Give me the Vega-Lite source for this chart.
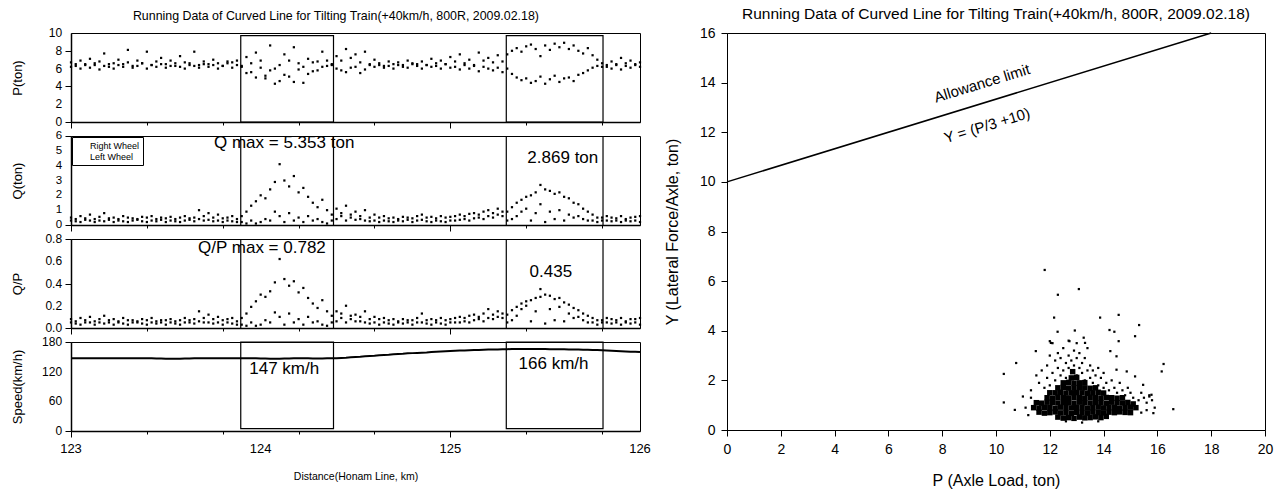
{
  "$schema": "https://vega.github.io/schema/vega-lite/v6.json",
  "padding": {"left": 10, "top": 6, "right": 0, "bottom": 0},
  "background": "white",
  "spacing": 11,
  "config": {
    "font": "Liberation Sans",
    "view": {"stroke": "black", "strokeWidth": 1},
    "axis": {"grid": false, "domainColor": "black", "domainWidth": 1.5, "tickColor": "black", "tickWidth": 1, "tickSize": 5, "labelColor": "black", "titleColor": "black", "labelFont": "Liberation Sans", "titleFont": "Liberation Sans", "titleFontWeight": "normal", "labelFontSize": 12, "titleFontSize": 13, "labelFlush": false, "labelOverlap": false, "labelPadding": 4},
    "title": {"fontWeight": "normal", "color": "black", "font": "Liberation Sans"}
  },
  "datasets": {
    "track": [
      {"d":123.000,"PR":6.7,"PL":6.2,"QR":0.5,"QL":0.3,"QPR":0.08,"QPL":0.05,"S":147},
      {"d":123.025,"PR":6.3,"PL":6.5,"QR":0.4,"QL":0.25,"QPR":0.06,"QPL":0.04,"S":147},
      {"d":123.050,"PR":6.9,"PL":6.0,"QR":0.6,"QL":0.2,"QPR":0.09,"QPL":0.03,"S":147},
      {"d":123.075,"PR":6.5,"PL":6.4,"QR":0.45,"QL":0.35,"QPR":0.07,"QPL":0.05,"S":147},
      {"d":123.100,"PR":7.1,"PL":6.1,"QR":0.7,"QL":0.3,"QPR":0.1,"QPL":0.05,"S":147},
      {"d":123.125,"PR":6.4,"PL":6.6,"QR":0.4,"QL":0.2,"QPR":0.06,"QPL":0.03,"S":147},
      {"d":123.150,"PR":6.8,"PL":5.9,"QR":0.55,"QL":0.3,"QPR":0.08,"QPL":0.05,"S":147},
      {"d":123.175,"PR":7.7,"PL":6.3,"QR":0.8,"QL":0.25,"QPR":0.11,"QPL":0.04,"S":147},
      {"d":123.200,"PR":6.2,"PL":6.5,"QR":0.45,"QL":0.35,"QPR":0.07,"QPL":0.05,"S":147},
      {"d":123.225,"PR":6.6,"PL":6.0,"QR":0.5,"QL":0.2,"QPR":0.08,"QPL":0.03,"S":147},
      {"d":123.250,"PR":7.0,"PL":6.4,"QR":0.4,"QL":0.3,"QPR":0.06,"QPL":0.05,"S":147},
      {"d":123.275,"PR":6.5,"PL":6.2,"QR":0.6,"QL":0.25,"QPR":0.09,"QPL":0.04,"S":147},
      {"d":123.300,"PR":8.1,"PL":6.7,"QR":0.5,"QL":0.2,"QPR":0.07,"QPL":0.03,"S":147},
      {"d":123.325,"PR":6.3,"PL":6.1,"QR":0.45,"QL":0.3,"QPR":0.07,"QPL":0.05,"S":147},
      {"d":123.350,"PR":6.9,"PL":6.3,"QR":0.4,"QL":0.35,"QPR":0.06,"QPL":0.05,"S":147},
      {"d":123.375,"PR":6.6,"PL":6.6,"QR":0.55,"QL":0.25,"QPR":0.08,"QPL":0.04,"S":147},
      {"d":123.400,"PR":7.9,"PL":6.0,"QR":0.5,"QL":0.2,"QPR":0.07,"QPL":0.03,"S":147},
      {"d":123.425,"PR":6.4,"PL":6.4,"QR":0.6,"QL":0.3,"QPR":0.09,"QPL":0.05,"S":147},
      {"d":123.450,"PR":6.8,"PL":6.2,"QR":0.4,"QL":0.25,"QPR":0.06,"QPL":0.04,"S":146.5},
      {"d":123.475,"PR":7.2,"PL":6.5,"QR":0.5,"QL":0.35,"QPR":0.07,"QPL":0.05,"S":146.5},
      {"d":123.500,"PR":6.5,"PL":6.1,"QR":0.45,"QL":0.2,"QPR":0.07,"QPL":0.03,"S":146},
      {"d":123.525,"PR":6.9,"PL":6.3,"QR":0.55,"QL":0.3,"QPR":0.08,"QPL":0.05,"S":146},
      {"d":123.550,"PR":6.3,"PL":6.6,"QR":0.4,"QL":0.25,"QPR":0.06,"QPL":0.04,"S":146},
      {"d":123.575,"PR":7.4,"PL":6.2,"QR":0.5,"QL":0.2,"QPR":0.07,"QPL":0.03,"S":146},
      {"d":123.600,"PR":6.7,"PL":6.0,"QR":0.6,"QL":0.3,"QPR":0.09,"QPL":0.05,"S":146.5},
      {"d":123.625,"PR":6.6,"PL":6.4,"QR":0.45,"QL":0.35,"QPR":0.07,"QPL":0.05,"S":146.5},
      {"d":123.650,"PR":7.9,"PL":6.3,"QR":0.5,"QL":0.25,"QPR":0.08,"QPL":0.04,"S":147},
      {"d":123.675,"PR":6.4,"PL":6.1,"QR":1.0,"QL":0.4,"QPR":0.15,"QPL":0.06,"S":147},
      {"d":123.700,"PR":6.8,"PL":6.5,"QR":0.6,"QL":0.3,"QPR":0.09,"QPL":0.05,"S":147},
      {"d":123.725,"PR":6.5,"PL":6.2,"QR":0.8,"QL":0.35,"QPR":0.12,"QPL":0.05,"S":147},
      {"d":123.750,"PR":7.0,"PL":6.4,"QR":0.5,"QL":0.25,"QPR":0.08,"QPL":0.04,"S":147},
      {"d":123.775,"PR":6.6,"PL":6.0,"QR":0.7,"QL":0.3,"QPR":0.1,"QPL":0.05,"S":147},
      {"d":123.800,"PR":6.3,"PL":6.3,"QR":0.45,"QL":0.2,"QPR":0.07,"QPL":0.03,"S":147},
      {"d":123.825,"PR":6.8,"PL":6.6,"QR":0.5,"QL":0.3,"QPR":0.08,"QPL":0.05,"S":147},
      {"d":123.850,"PR":6.7,"PL":6.1,"QR":0.6,"QL":0.25,"QPR":0.09,"QPL":0.04,"S":147},
      {"d":123.875,"PR":6.9,"PL":6.4,"QR":0.4,"QL":0.2,"QPR":0.06,"QPL":0.03,"S":147},
      {"d":123.900,"PR":6.2,"PL":6.3,"QR":0.6,"QL":0.2,"QPR":0.09,"QPL":0.03,"S":147},
      {"d":123.925,"PR":7.3,"PL":5.5,"QR":0.9,"QL":0.1,"QPR":0.13,"QPL":0.02,"S":147},
      {"d":123.950,"PR":5.6,"PL":6.6,"QR":1.3,"QL":0.3,"QPR":0.19,"QPL":0.05,"S":147},
      {"d":123.975,"PR":7.8,"PL":5.0,"QR":1.6,"QL":0.1,"QPR":0.24,"QPL":0.02,"S":147},
      {"d":124.000,"PR":6.9,"PL":6.1,"QR":2.0,"QL":0.2,"QPR":0.3,"QPL":0.03,"S":146.5},
      {"d":124.025,"PR":5.2,"PL":4.9,"QR":1.8,"QL":0.4,"QPR":0.28,"QPL":0.07,"S":146.5},
      {"d":124.050,"PR":8.6,"PL":5.8,"QR":2.4,"QL":0.3,"QPR":0.33,"QPL":0.05,"S":146},
      {"d":124.075,"PR":6.0,"PL":4.3,"QR":2.9,"QL":0.9,"QPR":0.41,"QPL":0.14,"S":146},
      {"d":124.100,"PR":4.6,"PL":6.4,"QR":4.1,"QL":0.6,"QPR":0.62,"QPL":0.1,"S":146},
      {"d":124.125,"PR":7.6,"PL":5.3,"QR":3.0,"QL":0.2,"QPR":0.44,"QPL":0.03,"S":146.5},
      {"d":124.150,"PR":5.1,"PL":6.9,"QR":2.6,"QL":0.8,"QPR":0.38,"QPL":0.13,"S":146.5},
      {"d":124.175,"PR":8.4,"PL":4.5,"QR":3.3,"QL":0.3,"QPR":0.42,"QPL":0.05,"S":147},
      {"d":124.200,"PR":6.6,"PL":5.9,"QR":2.2,"QL":0.5,"QPR":0.32,"QPL":0.08,"S":147},
      {"d":124.225,"PR":4.4,"PL":6.2,"QR":2.5,"QL":0.2,"QPR":0.36,"QPL":0.03,"S":147},
      {"d":124.250,"PR":7.1,"PL":5.4,"QR":1.9,"QL":0.6,"QPR":0.27,"QPL":0.1,"S":147},
      {"d":124.275,"PR":5.7,"PL":6.7,"QR":1.5,"QL":0.3,"QPR":0.22,"QPL":0.05,"S":146.5},
      {"d":124.300,"PR":6.8,"PL":5.8,"QR":1.2,"QL":0.4,"QPR":0.18,"QPL":0.06,"S":146.5},
      {"d":124.325,"PR":7.9,"PL":6.2,"QR":1.7,"QL":0.2,"QPR":0.25,"QPL":0.03,"S":146.5},
      {"d":124.350,"PR":6.3,"PL":6.9,"QR":1.0,"QL":0.1,"QPR":0.15,"QPL":0.02,"S":147},
      {"d":124.375,"PR":6.5,"PL":6.4,"QR":0.7,"QL":0.3,"QPR":0.11,"QPL":0.05,"S":147},
      {"d":124.400,"PR":7.4,"PL":6.0,"QR":1.1,"QL":0.4,"QPR":0.15,"QPL":0.06,"S":147},
      {"d":124.425,"PR":5.8,"PL":6.9,"QR":0.8,"QL":0.6,"QPR":0.13,"QPL":0.09,"S":147.5},
      {"d":124.450,"PR":8.2,"PL":5.6,"QR":1.3,"QL":0.3,"QPR":0.2,"QPL":0.05,"S":148},
      {"d":124.475,"PR":6.1,"PL":7.2,"QR":0.7,"QL":0.5,"QPR":0.11,"QPL":0.08,"S":149},
      {"d":124.500,"PR":7.6,"PL":6.2,"QR":0.9,"QL":0.35,"QPR":0.12,"QPL":0.06,"S":149.5},
      {"d":124.525,"PR":5.5,"PL":6.7,"QR":0.6,"QL":0.4,"QPR":0.1,"QPL":0.06,"S":150},
      {"d":124.550,"PR":7.9,"PL":5.9,"QR":1.0,"QL":0.3,"QPR":0.15,"QPL":0.05,"S":151},
      {"d":124.575,"PR":6.4,"PL":6.5,"QR":0.5,"QL":0.25,"QPR":0.08,"QPL":0.04,"S":151.5},
      {"d":124.600,"PR":7.0,"PL":6.2,"QR":0.7,"QL":0.3,"QPR":0.1,"QPL":0.05,"S":152},
      {"d":124.625,"PR":6.6,"PL":6.4,"QR":0.5,"QL":0.2,"QPR":0.08,"QPL":0.03,"S":153},
      {"d":124.650,"PR":6.3,"PL":6.1,"QR":0.6,"QL":0.3,"QPR":0.09,"QPL":0.05,"S":153.5},
      {"d":124.675,"PR":6.8,"PL":6.3,"QR":0.45,"QL":0.25,"QPR":0.07,"QPL":0.04,"S":154},
      {"d":124.700,"PR":6.5,"PL":6.0,"QR":0.5,"QL":0.2,"QPR":0.08,"QPL":0.03,"S":155},
      {"d":124.725,"PR":6.7,"PL":6.4,"QR":0.4,"QL":0.3,"QPR":0.06,"QPL":0.05,"S":155.5},
      {"d":124.750,"PR":6.4,"PL":6.2,"QR":0.55,"QL":0.25,"QPR":0.08,"QPL":0.04,"S":156},
      {"d":124.775,"PR":6.9,"PL":6.1,"QR":0.5,"QL":0.35,"QPR":0.07,"QPL":0.05,"S":157},
      {"d":124.800,"PR":6.6,"PL":6.5,"QR":0.45,"QL":0.2,"QPR":0.07,"QPL":0.03,"S":157.5},
      {"d":124.825,"PR":6.5,"PL":6.3,"QR":0.6,"QL":0.3,"QPR":0.09,"QPL":0.05,"S":158},
      {"d":124.850,"PR":6.8,"PL":6.0,"QR":0.7,"QL":0.35,"QPR":0.13,"QPL":0.05,"S":158.5},
      {"d":124.875,"PR":6.4,"PL":6.4,"QR":0.5,"QL":0.25,"QPR":0.07,"QPL":0.04,"S":159},
      {"d":124.900,"PR":7.1,"PL":6.2,"QR":0.55,"QL":0.2,"QPR":0.08,"QPL":0.03,"S":160},
      {"d":124.925,"PR":6.6,"PL":6.3,"QR":0.45,"QL":0.3,"QPR":0.07,"QPL":0.05,"S":160.5},
      {"d":124.950,"PR":6.9,"PL":6.0,"QR":0.6,"QL":0.25,"QPR":0.09,"QPL":0.04,"S":161},
      {"d":124.975,"PR":6.5,"PL":6.5,"QR":0.5,"QL":0.2,"QPR":0.07,"QPL":0.03,"S":161.5},
      {"d":125.000,"PR":7.3,"PL":6.1,"QR":0.55,"QL":0.3,"QPR":0.08,"QPL":0.05,"S":162},
      {"d":125.025,"PR":6.8,"PL":6.2,"QR":0.6,"QL":0.3,"QPR":0.09,"QPL":0.05,"S":162.5},
      {"d":125.050,"PR":7.6,"PL":5.9,"QR":0.7,"QL":0.35,"QPR":0.1,"QPL":0.05,"S":163},
      {"d":125.075,"PR":6.6,"PL":6.4,"QR":0.6,"QL":0.4,"QPR":0.09,"QPL":0.06,"S":163},
      {"d":125.100,"PR":7.0,"PL":6.0,"QR":0.75,"QL":0.3,"QPR":0.11,"QPL":0.05,"S":163.5},
      {"d":125.125,"PR":6.4,"PL":6.3,"QR":0.8,"QL":0.45,"QPR":0.12,"QPL":0.07,"S":164},
      {"d":125.150,"PR":7.8,"PL":5.7,"QR":0.7,"QL":0.5,"QPR":0.1,"QPL":0.08,"S":164},
      {"d":125.175,"PR":6.9,"PL":6.2,"QR":0.9,"QL":0.4,"QPR":0.13,"QPL":0.06,"S":164.5},
      {"d":125.200,"PR":7.2,"PL":6.0,"QR":1.0,"QL":0.6,"QPR":0.17,"QPL":0.09,"S":165},
      {"d":125.225,"PR":6.7,"PL":5.8,"QR":0.8,"QL":0.5,"QPR":0.12,"QPL":0.08,"S":165},
      {"d":125.250,"PR":7.5,"PL":6.1,"QR":1.1,"QL":0.7,"QPR":0.15,"QPL":0.1,"S":165},
      {"d":125.275,"PR":6.8,"PL":5.6,"QR":0.9,"QL":0.6,"QPR":0.13,"QPL":0.09,"S":165.5},
      {"d":125.300,"PR":7.6,"PL":6.0,"QR":0.9,"QL":0.3,"QPR":0.12,"QPL":0.05,"S":165.5},
      {"d":125.325,"PR":8.0,"PL":5.4,"QR":1.2,"QL":0.4,"QPR":0.16,"QPL":0.07,"S":166},
      {"d":125.350,"PR":8.3,"PL":5.0,"QR":1.5,"QL":0.6,"QPR":0.19,"QPL":0.11,"S":166},
      {"d":125.375,"PR":7.9,"PL":4.7,"QR":1.7,"QL":0.9,"QPR":0.22,"QPL":0.17,"S":166},
      {"d":125.400,"PR":8.5,"PL":4.9,"QR":1.9,"QL":1.1,"QPR":0.24,"QPL":0.2,"S":166},
      {"d":125.425,"PR":8.7,"PL":4.4,"QR":2.0,"QL":0.3,"QPR":0.25,"QPL":0.06,"S":166},
      {"d":125.450,"PR":8.2,"PL":4.6,"QR":2.2,"QL":0.8,"QPR":0.27,"QPL":0.15,"S":166},
      {"d":125.475,"PR":7.4,"PL":5.1,"QR":2.7,"QL":1.4,"QPR":0.35,"QPL":0.28,"S":166},
      {"d":125.500,"PR":8.6,"PL":4.3,"QR":2.4,"QL":0.2,"QPR":0.3,"QPL":0.04,"S":166},
      {"d":125.525,"PR":8.1,"PL":4.8,"QR":2.3,"QL":0.9,"QPR":0.29,"QPL":0.17,"S":165.5},
      {"d":125.550,"PR":8.8,"PL":5.2,"QR":2.1,"QL":0.4,"QPR":0.26,"QPL":0.07,"S":165.5},
      {"d":125.575,"PR":8.4,"PL":4.5,"QR":2.2,"QL":1.0,"QPR":0.27,"QPL":0.19,"S":165.5},
      {"d":125.600,"PR":8.9,"PL":4.9,"QR":1.9,"QL":0.3,"QPR":0.23,"QPL":0.06,"S":165.5},
      {"d":125.625,"PR":8.2,"PL":5.0,"QR":1.8,"QL":0.7,"QPR":0.21,"QPL":0.13,"S":165},
      {"d":125.650,"PR":8.6,"PL":4.6,"QR":1.5,"QL":0.5,"QPR":0.18,"QPL":0.09,"S":165},
      {"d":125.675,"PR":8.0,"PL":5.3,"QR":1.4,"QL":0.6,"QPR":0.16,"QPL":0.1,"S":165},
      {"d":125.700,"PR":7.7,"PL":5.5,"QR":1.1,"QL":0.4,"QPR":0.13,"QPL":0.07,"S":164.5},
      {"d":125.725,"PR":8.3,"PL":5.8,"QR":0.9,"QL":0.3,"QPR":0.11,"QPL":0.05,"S":164.5},
      {"d":125.750,"PR":7.5,"PL":6.1,"QR":0.7,"QL":0.3,"QPR":0.09,"QPL":0.05,"S":164},
      {"d":125.775,"PR":7.0,"PL":6.3,"QR":0.5,"QL":0.2,"QPR":0.07,"QPL":0.03,"S":164},
      {"d":125.800,"PR":6.6,"PL":6.2,"QR":0.5,"QL":0.3,"QPR":0.07,"QPL":0.05,"S":163.5},
      {"d":125.825,"PR":6.4,"PL":6.2,"QR":0.6,"QL":0.3,"QPR":0.09,"QPL":0.05,"S":163},
      {"d":125.850,"PR":6.8,"PL":6.0,"QR":0.5,"QL":0.25,"QPR":0.08,"QPL":0.04,"S":162.5},
      {"d":125.875,"PR":6.5,"PL":6.4,"QR":0.45,"QL":0.3,"QPR":0.07,"QPL":0.05,"S":162},
      {"d":125.900,"PR":7.2,"PL":5.9,"QR":0.6,"QL":0.2,"QPR":0.09,"QPL":0.03,"S":161.5},
      {"d":125.925,"PR":6.6,"PL":6.3,"QR":0.4,"QL":0.3,"QPR":0.06,"QPL":0.05,"S":161},
      {"d":125.950,"PR":6.9,"PL":6.1,"QR":0.5,"QL":0.25,"QPR":0.08,"QPL":0.04,"S":160.5},
      {"d":125.975,"PR":6.5,"PL":6.4,"QR":0.55,"QL":0.3,"QPR":0.08,"QPL":0.05,"S":160.5},
      {"d":126.000,"PR":6.7,"PL":6.2,"QR":0.6,"QL":0.2,"QPR":0.09,"QPL":0.03,"S":160}
    ],
    "boxes": [
      {"x1": 123.895, "x2": 124.384},
      {"x1": 125.295, "x2": 125.805}
    ],
    "ylab": [
      {"panel": "P", "v": 0, "label": "0"}, {"panel": "P", "v": 2, "label": "2"}, {"panel": "P", "v": 4, "label": "4"}, {"panel": "P", "v": 6, "label": "6"}, {"panel": "P", "v": 8, "label": "8"}, {"panel": "P", "v": 10, "label": "10"},
      {"panel": "Q", "v": 0, "label": "0"}, {"panel": "Q", "v": 1, "label": "1"}, {"panel": "Q", "v": 2, "label": "2"}, {"panel": "Q", "v": 3, "label": "3"}, {"panel": "Q", "v": 4, "label": "4"}, {"panel": "Q", "v": 5, "label": "5"}, {"panel": "Q", "v": 6, "label": "6"},
      {"panel": "QP", "v": 0, "label": "0.0"}, {"panel": "QP", "v": 0.2, "label": "0.2"}, {"panel": "QP", "v": 0.4, "label": "0.4"}, {"panel": "QP", "v": 0.6, "label": "0.6"}, {"panel": "QP", "v": 0.8, "label": "0.8"},
      {"panel": "S", "v": 0, "label": "0"}, {"panel": "S", "v": 60, "label": "60"}, {"panel": "S", "v": 120, "label": "120"}, {"panel": "S", "v": 180, "label": "180"}
    ],
    "xlab": [
      {"d": 123, "label": "123"}, {"d": 124, "label": "124"}, {"d": 125, "label": "125"}, {"d": 126, "label": "126"}
    ],
    "notes": [
      {"id": "qmax", "d": 123.754, "v": 5.5, "label": "Q max = 5.353 ton"},
      {"id": "q2", "d": 125.78, "v": 4.5, "label": "2.869 ton"},
      {"id": "qpmax", "d": 123.67, "v": 0.72, "label": "Q/P max = 0.782"},
      {"id": "qp2", "d": 125.53, "v": 0.5, "label": "0.435"},
      {"id": "s1", "d": 123.94, "v": 126, "label": "147 km/h"},
      {"id": "s2", "d": 125.36, "v": 136, "label": "166 km/h"}
    ],
    "rnotes": [
      {"P": 9.48, "Y": 13.97, "label": "Allowance limit"},
      {"P": 9.67, "Y": 12.27, "label": "Y = (P/3 +10)"}
    ],
    "limit": [
      {"P": 0, "Y": 10},
      {"P": 18, "Y": 16}
    ],
    "core": [
      {"P":12.3,"Y":0.52},{"P":12.5,"Y":0.48},{"P":12.7,"Y":0.5},{"P":12.9,"Y":0.47},{"P":13.1,"Y":0.52},{"P":13.3,"Y":0.49},{"P":13.5,"Y":0.5},{"P":13.7,"Y":0.53},{"P":13.9,"Y":0.5},{"P":14.1,"Y":0.55},
      {"P":11.6,"Y":0.72},{"P":11.8,"Y":0.68},{"P":12.0,"Y":0.7},{"P":12.2,"Y":0.73},{"P":12.4,"Y":0.69},{"P":12.6,"Y":0.7},{"P":12.8,"Y":0.67},{"P":13.0,"Y":0.71},{"P":13.2,"Y":0.7},{"P":13.4,"Y":0.68},{"P":13.6,"Y":0.72},{"P":13.8,"Y":0.7},{"P":14.0,"Y":0.69},{"P":14.2,"Y":0.72},{"P":14.4,"Y":0.7},{"P":14.6,"Y":0.73},{"P":14.8,"Y":0.71},{"P":15.0,"Y":0.7},
      {"P":11.4,"Y":0.9},{"P":11.6,"Y":0.88},{"P":11.8,"Y":0.91},{"P":12.0,"Y":0.9},{"P":12.2,"Y":0.87},{"P":12.4,"Y":0.92},{"P":12.6,"Y":0.9},{"P":12.8,"Y":0.89},{"P":13.0,"Y":0.91},{"P":13.2,"Y":0.9},{"P":13.4,"Y":0.88},{"P":13.6,"Y":0.9},{"P":13.8,"Y":0.92},{"P":14.0,"Y":0.89},{"P":14.2,"Y":0.9},{"P":14.4,"Y":0.91},{"P":14.6,"Y":0.88},{"P":14.8,"Y":0.9},{"P":15.0,"Y":0.92},{"P":15.2,"Y":0.9},
      {"P":11.5,"Y":1.1},{"P":11.7,"Y":1.08},{"P":11.9,"Y":1.12},{"P":12.1,"Y":1.1},{"P":12.3,"Y":1.09},{"P":12.5,"Y":1.11},{"P":12.7,"Y":1.1},{"P":12.9,"Y":1.08},{"P":13.1,"Y":1.12},{"P":13.3,"Y":1.1},{"P":13.5,"Y":1.09},{"P":13.7,"Y":1.11},{"P":13.9,"Y":1.1},{"P":14.1,"Y":1.08},{"P":14.3,"Y":1.12},{"P":14.5,"Y":1.1},{"P":14.7,"Y":1.09},{"P":14.9,"Y":1.11},{"P":15.1,"Y":1.05},
      {"P":11.9,"Y":1.3},{"P":12.1,"Y":1.28},{"P":12.3,"Y":1.32},{"P":12.5,"Y":1.3},{"P":12.7,"Y":1.29},{"P":12.9,"Y":1.31},{"P":13.1,"Y":1.3},{"P":13.3,"Y":1.28},{"P":13.5,"Y":1.32},{"P":13.7,"Y":1.3},{"P":13.9,"Y":1.29},{"P":14.1,"Y":1.31},{"P":14.3,"Y":1.3},{"P":14.5,"Y":1.28},{"P":14.7,"Y":1.3},
      {"P":12.0,"Y":1.5},{"P":12.2,"Y":1.5},{"P":12.4,"Y":1.52},{"P":12.6,"Y":1.49},{"P":12.8,"Y":1.5},{"P":13.0,"Y":1.51},{"P":13.2,"Y":1.5},{"P":13.4,"Y":1.48},{"P":13.6,"Y":1.5},{"P":13.8,"Y":1.52},{"P":14.0,"Y":1.49},
      {"P":12.3,"Y":1.7},{"P":12.5,"Y":1.72},{"P":12.7,"Y":1.69},{"P":12.9,"Y":1.7},{"P":13.1,"Y":1.71},{"P":13.3,"Y":1.7},{"P":13.5,"Y":1.68},{"P":13.7,"Y":1.7},
      {"P":12.5,"Y":1.9},{"P":12.7,"Y":1.92},{"P":12.9,"Y":1.89},{"P":13.1,"Y":1.9},{"P":13.3,"Y":1.91},
      {"P":12.8,"Y":2.1},{"P":13.0,"Y":2.12},{"P":12.85,"Y":2.35}
    ],
    "scatter": [
      {"P":11.81,"Y":6.45},{"P":12.3,"Y":5.45},{"P":13.08,"Y":5.68},{"P":12.16,"Y":4.53},{"P":13.87,"Y":4.53},{"P":14.56,"Y":4.64},{"P":15.32,"Y":4.23},{"P":14.22,"Y":4.03},{"P":14.4,"Y":3.96},{"P":15.17,"Y":3.78},{"P":12.93,"Y":4.01},{"P":12.29,"Y":3.96},
      {"P":10.29,"Y":2.26},{"P":10.29,"Y":1.11},{"P":10.75,"Y":2.7},{"P":10.7,"Y":0.81},{"P":16.23,"Y":2.66},{"P":16.16,"Y":2.36},{"P":16.59,"Y":0.84},{"P":15.85,"Y":0.68},{"P":15.78,"Y":1.42},{"P":15.47,"Y":1.82},{"P":15.7,"Y":1.35},{"P":15.17,"Y":2.16},{"P":14.86,"Y":2.36},{"P":14.48,"Y":2.43},{"P":11.0,"Y":1.35},{"P":11.48,"Y":3.18},{"P":12.04,"Y":3.51},{"P":12.0,"Y":3.58},{"P":12.73,"Y":3.58},{"P":13.31,"Y":3.51},{"P":13.26,"Y":3.72},{"P":14.25,"Y":3.18},{"P":14.48,"Y":2.97},{"P":14.56,"Y":3.58},
      {"P":11.3,"Y":1.6},{"P":11.5,"Y":2.2},{"P":11.6,"Y":1.9},{"P":11.7,"Y":2.4},{"P":11.8,"Y":1.7},{"P":11.9,"Y":2.1},{"P":11.9,"Y":2.6},{"P":12.0,"Y":1.8},{"P":12.0,"Y":3.0},{"P":12.1,"Y":2.3},{"P":12.1,"Y":3.5},{"P":12.2,"Y":2.0},{"P":12.2,"Y":2.8},{"P":12.3,"Y":1.7},{"P":12.3,"Y":2.5},{"P":12.3,"Y":3.1},{"P":12.4,"Y":2.2},{"P":12.4,"Y":2.9},{"P":12.5,"Y":2.4},{"P":12.5,"Y":3.3},{"P":12.6,"Y":2.1},{"P":12.6,"Y":2.7},{"P":12.7,"Y":2.5},{"P":12.7,"Y":3.0},{"P":12.7,"Y":3.6},{"P":12.8,"Y":2.3},{"P":12.8,"Y":2.8},{"P":12.9,"Y":2.6},{"P":12.9,"Y":3.2},{"P":13.0,"Y":2.2},{"P":13.0,"Y":2.9},{"P":13.0,"Y":3.5},{"P":13.1,"Y":2.5},{"P":13.1,"Y":3.1},{"P":13.2,"Y":2.3},{"P":13.2,"Y":2.7},{"P":13.3,"Y":2.0},{"P":13.3,"Y":2.9},{"P":13.4,"Y":2.4},{"P":13.4,"Y":3.3},{"P":13.5,"Y":2.1},{"P":13.5,"Y":2.6},{"P":13.6,"Y":1.9},{"P":13.6,"Y":2.4},{"P":13.7,"Y":2.2},{"P":13.8,"Y":1.8},{"P":13.8,"Y":2.5},{"P":13.9,"Y":2.1},{"P":14.0,"Y":1.7},{"P":14.0,"Y":2.3},{"P":14.1,"Y":1.9},{"P":14.2,"Y":1.6},{"P":14.3,"Y":2.0},{"P":14.4,"Y":1.7},{"P":14.5,"Y":1.5},{"P":14.6,"Y":1.9},{"P":14.7,"Y":1.6},{"P":14.8,"Y":1.4},{"P":14.9,"Y":1.7},{"P":15.0,"Y":1.5},{"P":15.1,"Y":1.3},{"P":15.3,"Y":1.2},{"P":15.4,"Y":1.5},{"P":15.5,"Y":1.3},{"P":15.6,"Y":1.1},{"P":15.7,"Y":1.4},{"P":15.8,"Y":1.2},{"P":15.9,"Y":0.9},{"P":11.2,"Y":0.6},{"P":11.3,"Y":1.3},{"P":11.1,"Y":0.9},{"P":15.4,"Y":0.7},{"P":15.6,"Y":0.8},{"P":12.6,"Y":0.35},{"P":13.2,"Y":0.3},{"P":13.8,"Y":0.35}
    ]
  },
  "hconcat": [
    {
      "title": {"text": "Running Data of Curved Line for Tilting Train(+40km/h, 800R, 2009.02.18)", "fontSize": 12.4, "offset": 4, "anchor": "middle", "dx": 5},
      "bounds": "flush",
      "spacing": 14,
      "resolve": {"scale": {"x": "independent", "y": "independent", "color": "independent"}, "legend": {"color": "independent"}},
      "vconcat": [
        {
          "width": 569, "height": 89,
          "layer": [
            {"data": {"name": "track"}, "mark": {"type": "square", "size": 5, "color": "black", "opacity": 1},
             "encoding": {
               "x": {"field": "d", "type": "quantitative", "scale": {"domain": [123, 126], "nice": false, "zero": false},
                     "axis": {"title": null, "labels": false, "values": [123,123.2,123.4,123.6,123.8,124,124.2,124.4,124.6,124.8,125,125.2,125.4,125.6,125.8,126], "tickSize": {"condition": {"test": "abs(datum.value - round(datum.value)) < 0.001", "value": 6}, "value": 3}}},
               "y": {"field": "PR", "type": "quantitative", "scale": {"domain": [0, 10], "nice": false},
                     "axis": {"title": "P(ton)", "labels": false, "values": [0,1,2,3,4,5,6,7,8,9,10], "tickSize": {"condition": {"test": "datum.value % 2 === 0", "value": 6}, "value": 3}, "titleX": -54, "titleAlign": "center", "titleBaseline": "middle", "titleAngle": 270}}
             }},
            {"data": {"name": "track"}, "mark": {"type": "square", "size": 5, "color": "black", "opacity": 1},
             "encoding": {"x": {"field": "d", "type": "quantitative"}, "y": {"field": "PL", "type": "quantitative"}}},
            {"data": {"name": "boxes"}, "mark": {"type": "rect", "fillOpacity": 0, "stroke": "black", "strokeWidth": 1.2},
             "encoding": {"x": {"field": "x1", "type": "quantitative"}, "x2": {"field": "x2"}, "y": {"datum": 0}, "y2": {"datum": 9.7}}},
            {"data": {"name": "ylab"}, "transform": [{"filter": "datum.panel === 'P'"}],
             "mark": {"type": "text", "align": "right", "baseline": "middle", "fontSize": 12, "color": "black"},
             "encoding": {"x": {"datum": 122.953}, "y": {"field": "v", "type": "quantitative"}, "text": {"field": "label"}}}
          ]
        },
        {
          "width": 569, "height": 89,
          "layer": [
            {"data": {"name": "track"}, "mark": {"type": "square", "size": 5, "opacity": 1},
             "encoding": {
               "x": {"field": "d", "type": "quantitative", "scale": {"domain": [123, 126], "nice": false, "zero": false},
                     "axis": {"title": null, "labels": false, "values": [123,123.2,123.4,123.6,123.8,124,124.2,124.4,124.6,124.8,125,125.2,125.4,125.6,125.8,126], "tickSize": {"condition": {"test": "abs(datum.value - round(datum.value)) < 0.001", "value": 6}, "value": 3}}},
               "y": {"field": "QR", "type": "quantitative", "scale": {"domain": [0, 6], "nice": false},
                     "axis": {"title": "Q(ton)", "labels": false, "values": [0,0.5,1,1.5,2,2.5,3,3.5,4,4.5,5,5.5,6], "tickSize": {"condition": {"test": "datum.value % 1 === 0", "value": 6}, "value": 3}, "titleX": -54, "titleAlign": "center", "titleBaseline": "middle", "titleAngle": 270}},
               "color": {"datum": "Right Wheel", "scale": {"domain": ["Right Wheel", "Left Wheel"], "range": ["black", "black"]},
                         "legend": {"title": null, "orient": "top-left", "offset": 1, "padding": 3, "strokeColor": "black", "labelFontSize": 9, "symbolType": "stroke", "symbolStrokeWidth": 1, "symbolSize": 90, "rowPadding": 0, "labelOffset": 4}}
             }},
            {"data": {"name": "track"}, "mark": {"type": "square", "size": 5, "opacity": 1},
             "encoding": {"x": {"field": "d", "type": "quantitative"}, "y": {"field": "QL", "type": "quantitative"}, "color": {"datum": "Left Wheel"}}},
            {"data": {"name": "boxes"}, "mark": {"type": "rule", "color": "black", "strokeWidth": 1.2},
             "encoding": {"x": {"field": "x1", "type": "quantitative"}}},
            {"data": {"name": "boxes"}, "mark": {"type": "rule", "color": "black", "strokeWidth": 1.2},
             "encoding": {"x": {"field": "x2", "type": "quantitative"}}},
            {"data": {"name": "ylab"}, "transform": [{"filter": "datum.panel === 'Q'"}],
             "mark": {"type": "text", "align": "right", "baseline": "middle", "fontSize": 11.5, "color": "black"},
             "encoding": {"x": {"datum": 122.953}, "y": {"field": "v", "type": "quantitative"}, "text": {"field": "label"}}},
            {"data": {"name": "notes"}, "transform": [{"filter": "datum.id === 'qmax'"}],
             "mark": {"type": "text", "align": "left", "baseline": "middle", "fontSize": 17, "color": "black"},
             "encoding": {"x": {"field": "d", "type": "quantitative"}, "y": {"field": "v", "type": "quantitative"}, "text": {"field": "label"}}},
            {"data": {"name": "notes"}, "transform": [{"filter": "datum.id === 'q2'"}],
             "mark": {"type": "text", "align": "right", "baseline": "middle", "fontSize": 17, "color": "black"},
             "encoding": {"x": {"field": "d", "type": "quantitative"}, "y": {"field": "v", "type": "quantitative"}, "text": {"field": "label"}}}
          ]
        },
        {
          "width": 569, "height": 89,
          "layer": [
            {"data": {"name": "track"}, "mark": {"type": "square", "size": 5, "color": "black", "opacity": 1},
             "encoding": {
               "x": {"field": "d", "type": "quantitative", "scale": {"domain": [123, 126], "nice": false, "zero": false},
                     "axis": {"title": null, "labels": false, "values": [123,123.2,123.4,123.6,123.8,124,124.2,124.4,124.6,124.8,125,125.2,125.4,125.6,125.8,126], "tickSize": {"condition": {"test": "abs(datum.value - round(datum.value)) < 0.001", "value": 6}, "value": 3}}},
               "y": {"field": "QPR", "type": "quantitative", "scale": {"domain": [0, 0.8], "nice": false},
                     "axis": {"title": "Q/P", "labels": false, "values": [0,0.1,0.2,0.3,0.4,0.5,0.6,0.7,0.8], "tickSize": {"condition": {"test": "round(datum.value * 10) % 2 === 0", "value": 6}, "value": 3}, "titleX": -54, "titleAlign": "center", "titleBaseline": "middle", "titleAngle": 270}}
             }},
            {"data": {"name": "track"}, "mark": {"type": "square", "size": 5, "color": "black", "opacity": 1},
             "encoding": {"x": {"field": "d", "type": "quantitative"}, "y": {"field": "QPL", "type": "quantitative"}}},
            {"data": {"name": "boxes"}, "mark": {"type": "rule", "color": "black", "strokeWidth": 1.2},
             "encoding": {"x": {"field": "x1", "type": "quantitative"}}},
            {"data": {"name": "boxes"}, "mark": {"type": "rule", "color": "black", "strokeWidth": 1.2},
             "encoding": {"x": {"field": "x2", "type": "quantitative"}}},
            {"data": {"name": "ylab"}, "transform": [{"filter": "datum.panel === 'QP'"}],
             "mark": {"type": "text", "align": "right", "baseline": "middle", "fontSize": 12, "color": "black"},
             "encoding": {"x": {"datum": 122.953}, "y": {"field": "v", "type": "quantitative"}, "text": {"field": "label"}}},
            {"data": {"name": "notes"}, "transform": [{"filter": "datum.id === 'qpmax'"}],
             "mark": {"type": "text", "align": "left", "baseline": "middle", "fontSize": 17, "color": "black"},
             "encoding": {"x": {"field": "d", "type": "quantitative"}, "y": {"field": "v", "type": "quantitative"}, "text": {"field": "label"}}},
            {"data": {"name": "notes"}, "transform": [{"filter": "datum.id === 'qp2'"}],
             "mark": {"type": "text", "align": "center", "baseline": "middle", "fontSize": 17, "color": "black"},
             "encoding": {"x": {"field": "d", "type": "quantitative"}, "y": {"field": "v", "type": "quantitative"}, "text": {"field": "label"}}}
          ]
        },
        {
          "width": 569, "height": 89,
          "layer": [
            {"data": {"name": "track"}, "mark": {"type": "line", "color": "black", "strokeWidth": 2},
             "encoding": {
               "x": {"field": "d", "type": "quantitative", "scale": {"domain": [123, 126], "nice": false, "zero": false},
                     "axis": {"title": "Distance(Honam Line, km)", "labels": false, "values": [123,123.2,123.4,123.6,123.8,124,124.2,124.4,124.6,124.8,125,125.2,125.4,125.6,125.8,126], "tickSize": {"condition": {"test": "abs(datum.value - round(datum.value)) < 0.001", "value": 6}, "value": 3}, "titleFontSize": 10.5, "titlePadding": 34}},
               "y": {"field": "S", "type": "quantitative", "scale": {"domain": [0, 180], "nice": false},
                     "axis": {"title": "Speed(km/h)", "labels": false, "values": [0,30,60,90,120,150,180], "tickSize": {"condition": {"test": "datum.value % 60 === 0", "value": 6}, "value": 3}, "titleX": -54, "titleAlign": "center", "titleBaseline": "middle", "titleAngle": 270}}
             }},
            {"data": {"name": "boxes"}, "mark": {"type": "rect", "fillOpacity": 0, "stroke": "black", "strokeWidth": 1.2},
             "encoding": {"x": {"field": "x1", "type": "quantitative"}, "x2": {"field": "x2"}, "y": {"datum": 5}, "y2": {"datum": 180}}},
            {"data": {"name": "ylab"}, "transform": [{"filter": "datum.panel === 'S'"}],
             "mark": {"type": "text", "align": "right", "baseline": "middle", "fontSize": 12, "color": "black"},
             "encoding": {"x": {"datum": 122.953}, "y": {"field": "v", "type": "quantitative"}, "text": {"field": "label"}}},
            {"data": {"name": "xlab"},
             "mark": {"type": "text", "align": "center", "baseline": "middle", "fontSize": 13, "color": "black"},
             "encoding": {"x": {"field": "d", "type": "quantitative"}, "y": {"datum": -36}, "text": {"field": "label"}}},
            {"data": {"name": "notes"}, "transform": [{"filter": "datum.id === 's1' || datum.id === 's2'"}],
             "mark": {"type": "text", "align": "left", "baseline": "middle", "fontSize": 17, "color": "black"},
             "encoding": {"x": {"field": "d", "type": "quantitative"}, "y": {"field": "v", "type": "quantitative"}, "text": {"field": "label"}}}
          ]
        }
      ]
    },
    {
      "width": 538, "height": 397,
      "title": {"text": "Running Data of Curved Line for Tilting Train(+40km/h, 800R, 2009.02.18)", "fontSize": 15.5, "offset": 4, "anchor": "middle"},
      "layer": [
        {"data": {"name": "limit"}, "mark": {"type": "line", "color": "black", "strokeWidth": 1.5},
         "encoding": {
           "x": {"field": "P", "type": "quantitative", "scale": {"domain": [0, 20], "nice": false, "zero": false},
                 "axis": {"title": "P (Axle Load, ton)", "values": [0,1,2,3,4,5,6,7,8,9,10,11,12,13,14,15,16,17,18,19,20], "labelOverlap": false, "labelExpr": "datum.value % 2 === 0 ? datum.label : ''", "tickSize": {"condition": {"test": "datum.value % 2 === 0", "value": 6}, "value": 3}, "domainWidth": 1, "labelFontSize": 14, "labelPadding": 6, "titleFontSize": 16, "titlePadding": 16}},
           "y": {"field": "Y", "type": "quantitative", "scale": {"domain": [0, 16], "nice": false},
                 "axis": {"title": "Y (Lateral Force/Axle, ton)", "values": [0,1,2,3,4,5,6,7,8,9,10,11,12,13,14,15,16], "labelOverlap": false, "labelExpr": "datum.value % 2 === 0 ? datum.label : ''", "tickSize": {"condition": {"test": "datum.value % 2 === 0", "value": 6}, "value": 3}, "domainWidth": 1, "labelFontSize": 14, "labelPadding": 6, "titleFontSize": 16, "titleX": -55, "titleAlign": "center", "titleBaseline": "middle", "titleAngle": 270}}
         }},
        {"data": {"name": "core"}, "mark": {"type": "square", "size": 30, "color": "black", "opacity": 1},
         "encoding": {"x": {"field": "P", "type": "quantitative"}, "y": {"field": "Y", "type": "quantitative"}}},
        {"data": {"name": "scatter"}, "mark": {"type": "square", "size": 5, "color": "black", "opacity": 1},
         "encoding": {"x": {"field": "P", "type": "quantitative"}, "y": {"field": "Y", "type": "quantitative"}}},
        {"data": {"name": "rnotes"}, "mark": {"type": "text", "align": "center", "baseline": "middle", "fontSize": 15, "angle": 343, "color": "black"},
         "encoding": {"x": {"field": "P", "type": "quantitative"}, "y": {"field": "Y", "type": "quantitative"}, "text": {"field": "label"}}}
      ]
    }
  ]
}
